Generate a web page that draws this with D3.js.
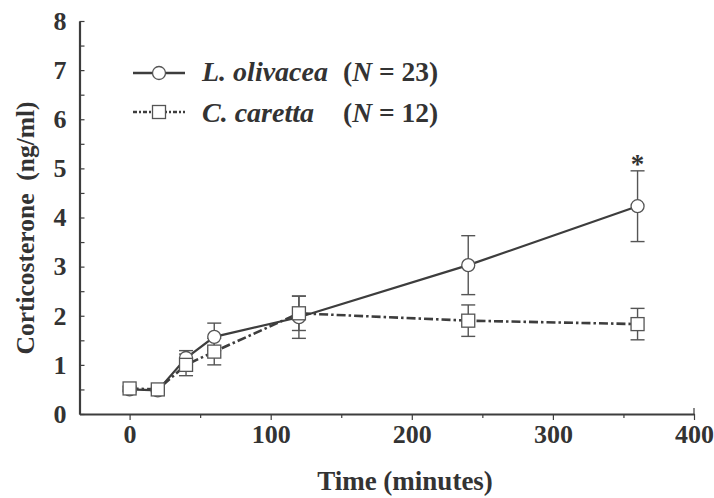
<!DOCTYPE html>
<html lang="en">
<head>
<meta charset="utf-8">
<title>Corticosterone over time</title>
<script src="https://d3js.org/d3.v7.min.js"></script>
<style>
  body { margin: 0; background: #fff; }
  text { font-family: "Liberation Serif", "Times New Roman", serif; fill: #333; }
</style>
</head>
<body>
<svg id="chart" width="714" height="498"></svg>
<script>
// data
var times = [0, 20, 40, 60, 120, 240, 360];
var olivaceaMean = [0.50, 0.48, 1.14, 1.57, 1.97, 3.03, 4.23];
var olivaceaSE   = [0.05, 0.03, 0.15, 0.28, 0.43, 0.60, 0.72];
var carettaMean  = [0.52, 0.50, 1.00, 1.27, 2.05, 1.90, 1.83];
var carettaSE    = [0.05, 0.04, 0.22, 0.27, 0.35, 0.32, 0.32];
var xTicks = [0, 50, 100, 150, 200, 250, 300, 350, 400];
var yTicks = [0, 0.5, 1, 1.5, 2, 2.5, 3, 3.5, 4, 4.5, 5, 5.5, 6, 6.5, 7, 7.5, 8];

var ink = "#3d3d3d";
var svg = d3.select("#chart");

var x = d3.scaleLinear().domain([-35.5, 400]).range([79.5, 694]);
var y = d3.scaleLinear().domain([0, 8]).range([414, 21]);

// x axis: ticks down, labels only on hundreds
var xAxis = d3.axisBottom(x).tickValues(xTicks).tickSizeInner(5).tickSizeOuter(0)
  .tickPadding(6).tickFormat(d => d % 100 === 0 ? d : "");
var gx = svg.append("g").attr("transform", "translate(0,414)").call(xAxis);
gx.select(".domain").attr("stroke", ink).attr("stroke-width", 2.2);
gx.selectAll(".tick line").attr("stroke", ink).attr("stroke-width", 1.2)
  .attr("y2", d => d % 100 === 0 ? 6 : 4);
gx.selectAll(".tick text").style("font", "bold 26px 'Liberation Serif', serif").attr("fill", "#333");
// small end cap at 400
svg.append("line").attr("x1", x(400)).attr("x2", x(400)).attr("y1", 414).attr("y2", 408)
  .attr("stroke", ink).attr("stroke-width", 1.2);

// y axis: ticks pointing inward
var yAxis = d3.axisLeft(y).tickValues(yTicks).tickSizeInner(-5).tickSizeOuter(0)
  .tickPadding(13).tickFormat(d => Number.isInteger(d) ? d : "");
var gy = svg.append("g").attr("transform", "translate(79.5,0)").call(yAxis);
gy.select(".domain").attr("stroke", ink).attr("stroke-width", 2.2);
gy.selectAll(".tick line").attr("stroke", ink).attr("stroke-width", 1.2);
gy.selectAll(".tick text").style("font", "bold 26px 'Liberation Serif', serif").attr("fill", "#333");

// axis titles
svg.append("text").attr("x", 405).attr("y", 490).attr("text-anchor", "middle")
  .style("font", "bold 27px 'Liberation Serif', serif").text("Time (minutes)");
svg.append("text").attr("transform", "translate(34,228) rotate(-90)").attr("text-anchor", "middle")
  .style("font", "bold 25.5px 'Liberation Serif', serif").attr("xml:space", "preserve")
  .text("Corticosterone  (ng/ml)");

var olivacea = times.map((t, i) => ({t: t, m: olivaceaMean[i], se: olivaceaSE[i]}));
var caretta = times.map((t, i) => ({t: t, m: carettaMean[i], se: carettaSE[i]}));

var line = d3.line().x(d => x(d.t)).y(d => y(d.m));
var dashCaretta = "9,3,2.5,3";

svg.append("path").datum(caretta).attr("d", line).attr("fill", "none")
  .attr("stroke", ink).attr("stroke-width", 2.6).attr("stroke-dasharray", dashCaretta);
svg.append("path").datum(olivacea).attr("d", line).attr("fill", "none")
  .attr("stroke", ink).attr("stroke-width", 2.2);

function errorBars(data) {
  var g = svg.append("g").attr("stroke", "#555").attr("stroke-width", 1.4);
  g.selectAll("line.v").data(data).enter().append("line")
    .attr("x1", d => x(d.t)).attr("x2", d => x(d.t))
    .attr("y1", d => y(d.m - d.se)).attr("y2", d => y(d.m + d.se));
  g.selectAll("line.top").data(data).enter().append("line")
    .attr("x1", d => x(d.t) - 7).attr("x2", d => x(d.t) + 7)
    .attr("y1", d => y(d.m + d.se)).attr("y2", d => y(d.m + d.se));
  g.selectAll("line.bot").data(data).enter().append("line")
    .attr("x1", d => x(d.t) - 7).attr("x2", d => x(d.t) + 7)
    .attr("y1", d => y(d.m - d.se)).attr("y2", d => y(d.m - d.se));
}
errorBars(olivacea);
errorBars(caretta);

svg.append("g").selectAll("circle").data(olivacea).enter().append("circle")
  .attr("cx", d => x(d.t)).attr("cy", d => y(d.m)).attr("r", 6.5)
  .attr("fill", "#fff").attr("stroke", "#555").attr("stroke-width", 1.3);
svg.append("g").selectAll("rect").data(caretta).enter().append("rect")
  .attr("x", d => x(d.t) - 6.5).attr("y", d => y(d.m) - 6.5)
  .attr("width", 13).attr("height", 13)
  .attr("fill", "#fff").attr("stroke", "#555").attr("stroke-width", 1.3);

// significance mark
svg.append("text").attr("x", x(360)).attr("y", 173).attr("text-anchor", "middle")
  .style("font", "bold 27px 'Liberation Serif', serif").text("*");

// legend
var lg = svg.append("g");
lg.append("line").attr("x1", 133).attr("x2", 185).attr("y1", 73).attr("y2", 73)
  .attr("stroke", ink).attr("stroke-width", 2.4);
lg.append("circle").attr("cx", 159).attr("cy", 73).attr("r", 6.5)
  .attr("fill", "#fff").attr("stroke", "#555").attr("stroke-width", 1.3);
lg.append("line").attr("x1", 133).attr("x2", 185).attr("y1", 112).attr("y2", 112)
  .attr("stroke", ink).attr("stroke-width", 2.4).attr("stroke-dasharray", "4,2,2,2");
lg.append("rect").attr("x", 152.5).attr("y", 105.5).attr("width", 13).attr("height", 13)
  .attr("fill", "#fff").attr("stroke", "#555").attr("stroke-width", 1.3);

var legendRows = [["L. olivacea", "23", 81], ["C. caretta", "12", 122]];
legendRows.forEach(function(r) {
  lg.append("text").attr("x", 202).attr("y", r[2])
    .style("font", "italic bold 28px 'Liberation Serif', serif").text(r[0]);
  var t = lg.append("text").attr("x", 343).attr("y", r[2])
    .style("font", "bold 27.5px 'Liberation Serif', serif").attr("xml:space", "preserve");
  t.append("tspan").text("(");
  t.append("tspan").style("font-style", "italic").text("N");
  t.append("tspan").text(" = " + r[1] + ")");
});
</script>
</body>
</html>
